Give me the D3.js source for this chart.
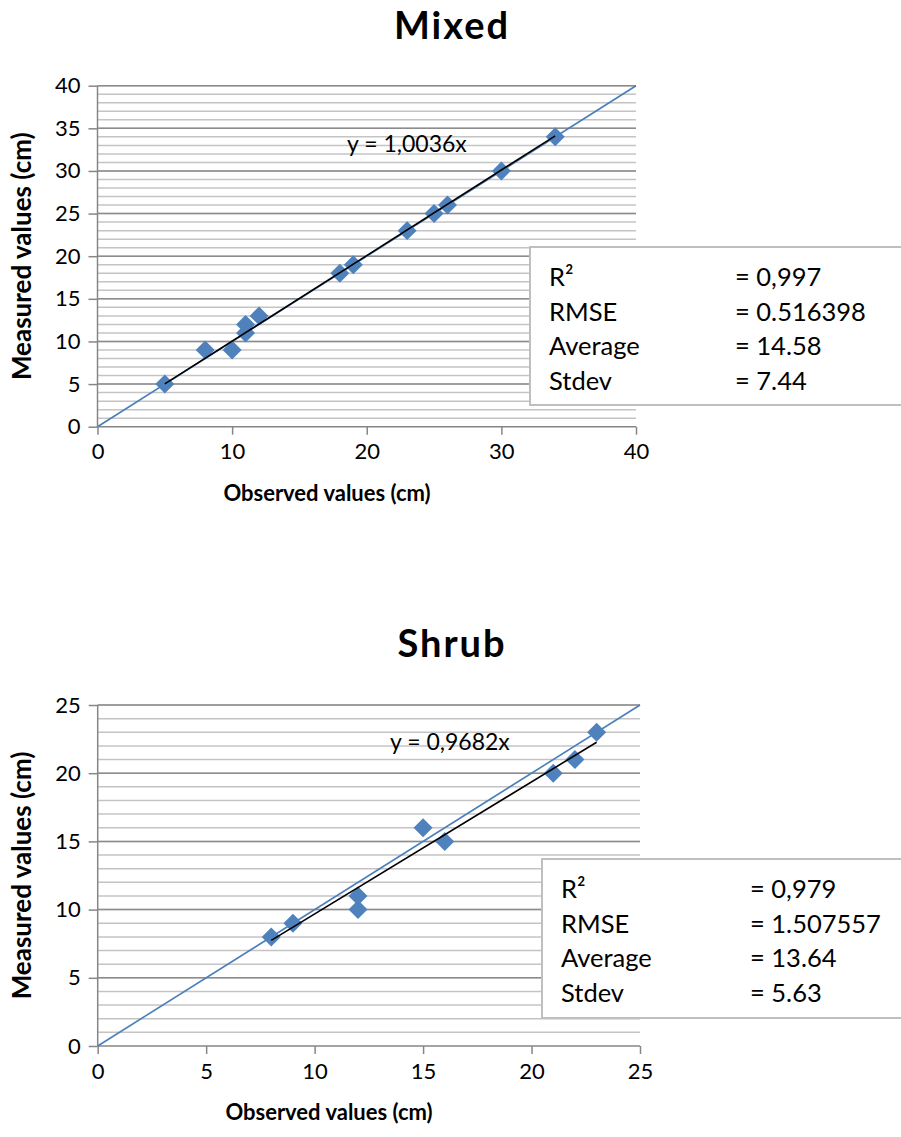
<!DOCTYPE html>
<html>
<head>
<meta charset="utf-8">
<script src="https://cdn.jsdelivr.net/npm/d3@7"></script>
<style>
  body { margin: 0; background: #fff; }
  text { font-family: Lato, "Open Sans", sans-serif; fill: #000; }
</style>
</head>
<body>
<div id="chart"></div>
<script>
// Mixed panel
var mixedObserved = [5, 8, 10, 11, 11, 12, 18, 19, 23, 25, 26, 30, 34];
var mixedMeasured = [5, 9, 9, 11, 12, 13, 18, 19, 23, 25, 26, 30, 34];
var mixedSlope = 1.0036;
var mixedTicks = [0, 10, 20, 30, 40];
var mixedYTicks = [0, 5, 10, 15, 20, 25, 30, 35, 40];
var mixedStatNames = ["R²", "RMSE", "Average", "Stdev"];
var mixedStatValues = ["= 0,997", "= 0.516398", "= 14.58", "= 7.44"];

// Shrub panel
var shrubObserved = [8, 9, 12, 12, 15, 16, 21, 22, 23];
var shrubMeasured = [8, 9, 11, 10, 16, 15, 20, 21, 23];
var shrubSlope = 0.9682;
var shrubTicks = [0, 5, 10, 15, 20, 25];
var shrubYTicks = [0, 5, 10, 15, 20, 25];
var shrubStatNames = ["R²", "RMSE", "Average", "Stdev"];
var shrubStatValues = ["= 0,979", "= 1.507557", "= 13.64", "= 5.63"];

var svg = d3.select("#chart").append("svg").attr("width", 901).attr("height", 1137);
svg.append("rect").attr("width", 901).attr("height", 1137).attr("fill", "#fff");

function drawPanel(p) {
    var x = d3.scaleLinear().domain([0, p.max]).range([p.left, p.right]);
    var y = d3.scaleLinear().domain([0, p.max]).range([p.bottom, p.top]);
    var g = svg.append("g");

    // minor grid (every 1), major grid (every 5)
    g.selectAll(".minor").data(d3.range(1, p.max + 1)).enter().append("line")
        .attr("x1", p.left).attr("x2", p.right)
        .attr("y1", function (d) { return y(d); }).attr("y2", function (d) { return y(d); })
        .attr("stroke", "#c4c4c4").attr("stroke-width", 1.5);
    g.selectAll(".major").data(p.yTicks.filter(function (d) { return d > 0; })).enter().append("line")
        .attr("x1", p.left).attr("x2", p.right)
        .attr("y1", function (d) { return y(d); }).attr("y2", function (d) { return y(d); })
        .attr("stroke", "#8c8c8c").attr("stroke-width", 1.5);

    var yAxis = g.append("g").attr("transform", "translate(" + p.left + ",0)")
        .call(d3.axisLeft(y).tickValues(p.yTicks).tickSize(9).tickPadding(8));
    var xAxis = g.append("g").attr("transform", "translate(0," + p.bottom + ")")
        .call(d3.axisBottom(x).tickValues(p.xTicks).tickSize(8).tickPadding(9));
    [yAxis, xAxis].forEach(function (a) {
        a.select(".domain").attr("stroke", "#868686").attr("stroke-width", 1.5);
        a.selectAll(".tick line").attr("stroke", "#868686").attr("stroke-width", 1.5);
        a.selectAll(".tick text").style("font-family", "Lato, sans-serif").style("font-size", "22px").attr("fill", "#000");
    });
    yAxis.select(".domain").attr("d", "M0," + p.bottom + "V" + p.top);
    xAxis.select(".domain").attr("d", "M" + p.left + ",0H" + p.right);

    // 1:1 line
    g.append("line")
        .attr("x1", x(0)).attr("y1", y(0)).attr("x2", x(p.max)).attr("y2", y(p.max))
        .attr("stroke", "#4a7ebb").attr("stroke-width", 1.6);

    var pts = p.obs.map(function (d, i) { return { o: d, m: p.meas[i] }; });
    g.selectAll(".pt").data(pts).enter().append("path")
        .attr("d", d3.symbol().type(d3.symbolDiamond2).size(230))
        .attr("transform", function (d) { return "translate(" + x(d.o) + "," + y(d.m) + ")"; })
        .attr("fill", "#4f81bd");

    // trendline y = a x over the data range
    var xMin = d3.min(p.obs), xMax = d3.max(p.obs);
    g.append("line")
        .attr("x1", x(xMin)).attr("y1", y(xMin * p.slope))
        .attr("x2", x(xMax)).attr("y2", y(xMax * p.slope))
        .attr("stroke", "#000").attr("stroke-width", 1.6);

    g.append("text").attr("x", p.eqX).attr("y", p.eqY)
        .style("font-size", "23px")
        .text("y = " + String(p.slope).replace(".", ",") + "x");

    // title and axis labels
    g.append("text").attr("x", 452).attr("y", p.titleY).attr("text-anchor", "middle")
        .style("font-size", "38px").style("font-weight", "bold").style("letter-spacing", "2px").text(p.title);
    g.append("text").attr("x", p.xTitleX).attr("y", p.bottom + 74).attr("text-anchor", "middle")
        .style("font-size", "22px").style("font-weight", "bold").text("Observed values (cm)");
    g.append("text").attr("transform", "translate(31," + ((p.top + p.bottom) / 2) + ") rotate(-90)")
        .attr("text-anchor", "middle")
        .style("font-size", "26px").style("font-weight", "bold").text("Measured values (cm)");

    // stats box
    var box = g.append("g").attr("transform", "translate(" + p.boxX + "," + p.boxY + ")");
    box.append("rect").attr("width", 901 - p.boxX + 10).attr("height", p.boxH)
        .attr("fill", "#fff").attr("stroke", "#bfbfbf").attr("stroke-width", 2);
    box.selectAll(".sn").data(p.statNames).enter().append("text")
        .attr("x", p.padX).attr("y", function (d, i) { return 39 + i * 34.6; })
        .style("font-size", "25.5px").text(function (d) { return d; });
    box.selectAll(".sv").data(p.statValues).enter().append("text")
        .attr("x", p.valX).attr("y", function (d, i) { return 39 + i * 34.6; })
        .style("font-size", "25.5px").text(function (d) { return d; });
}

drawPanel({
    title: "Mixed", titleY: 39, max: 40,
    left: 97.5, right: 636, top: 85.7, bottom: 426.7,
    xTicks: mixedTicks, yTicks: mixedYTicks,
    obs: mixedObserved, meas: mixedMeasured, slope: mixedSlope,
    eqX: 347, eqY: 152, xTitleX: 327,
    boxX: 530, boxY: 247, boxH: 158, padX: 19, valX: 205,
    statNames: mixedStatNames, statValues: mixedStatValues
});

drawPanel({
    title: "Shrub", titleY: 657, max: 25,
    left: 97.7, right: 640, top: 705, bottom: 1046,
    xTicks: shrubTicks, yTicks: shrubYTicks,
    obs: shrubObserved, meas: shrubMeasured, slope: shrubSlope,
    eqX: 390, eqY: 750, xTitleX: 329,
    boxX: 542, boxY: 859, boxH: 159, padX: 19, valX: 208,
    statNames: shrubStatNames, statValues: shrubStatValues
});
</script>
</body>
</html>
